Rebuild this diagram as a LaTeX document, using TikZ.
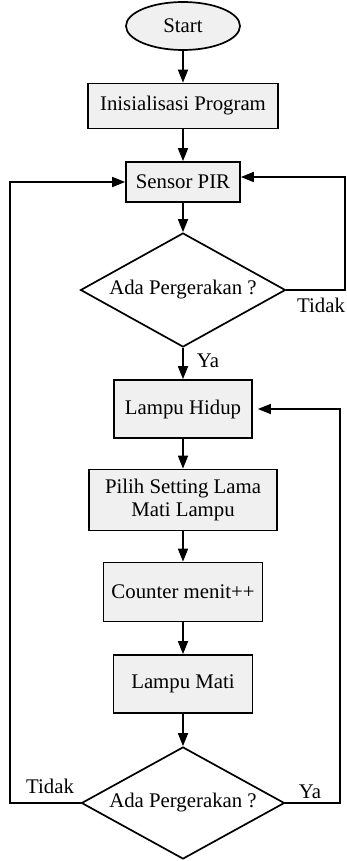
\documentclass[tikz,border=0pt]{standalone}
\usepackage{fontspec}
\setmainfont{Liberation Serif}
\usetikzlibrary{shapes.geometric,arrows.meta}
\begin{document}
\begin{tikzpicture}[x=1pt,y=-1pt,
  every node/.style={font=\fontsize{20.8}{23}\selectfont},
  proc/.style={draw,line width=1.7pt,fill=gray!12,rectangle,inner sep=0pt,align=center},
  term/.style={draw,line width=1.7pt,fill=gray!12,ellipse,inner sep=0pt},
  dec/.style={draw,line width=1.7pt,diamond,aspect=1.8,inner sep=0pt},
  arr/.style={line width=1.7pt,-{Triangle[length=13pt,width=10pt]}},
  lbl/.style={inner sep=0pt}]
\useasboundingbox (0,0) rectangle (346,861);
\node[term,minimum width=114pt,minimum height=48pt] (start) at (183,26) {Start};
\node[proc,minimum width=190pt,minimum height=45pt] (init) at (183,106) {Inisialisasi Program};
\node[proc,minimum width=114pt,minimum height=40pt] (pir) at (183,182) {Sensor PIR};
\node[dec,minimum width=205pt,minimum height=114pt] (d1) at (183,290) {Ada Pergerakan ?};
\node[proc,minimum width=138pt,minimum height=58pt] (lh) at (183,409) {Lampu Hidup};
\node[proc,minimum width=188pt,minimum height=61pt] (pilih) at (183,500) {Pilih Setting Lama\\Mati Lampu};
\node[proc,minimum width=159pt,minimum height=59pt] (cnt) at (183,592) {Counter menit++};
\node[proc,minimum width=139pt,minimum height=58pt] (mati) at (183,684) {Lampu Mati};
\node[dec,minimum width=203pt,minimum height=112pt] (d2) at (183,803) {Ada Pergerakan ?};
\coordinate (r1) at (345,290);
\coordinate (l2) at (10,803);
\coordinate (r2) at (340,803);
\draw[arr] (start) -- (init);
\draw[arr] (init) -- (pir);
\draw[arr] (pir) -- (d1);
\draw[arr] (d1) -- (lh);
\draw[arr] (d1.east) -- (r1) |- ([yshift=5pt]pir.east);
\draw[arr] (lh) -- (pilih);
\draw[arr] (pilih) -- (cnt);
\draw[arr] (cnt) -- (mati);
\draw[arr] (mati) -- (d2);
\draw[arr] (d2.west) -- (l2) |- (pir.west);
\draw[arr,shorten >=5pt] (d2.east) -- (r2) |- (lh.east);
\node[lbl] (ya1) at (208,361) {Ya};
\node[lbl] (tidak1) at (321,305) {Tidak};
\node[lbl] (tidak2) at (50,786) {Tidak};
\node[lbl] (ya2) at (310,792) {Ya};
\end{tikzpicture}
\end{document}
